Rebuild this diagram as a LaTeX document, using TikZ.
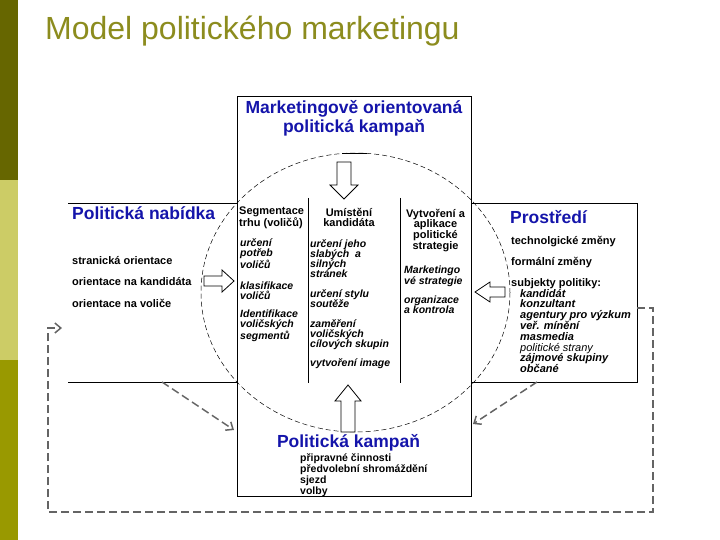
\documentclass[tikz,border=0pt]{standalone}
\usepackage{fontspec}
\setmainfont{Liberation Sans}
\usetikzlibrary{arrows.meta}
\definecolor{olivedark}{RGB}{102,102,0}
\definecolor{olivelight}{RGB}{204,204,102}
\definecolor{olivemid}{RGB}{153,153,0}
\definecolor{titleolive}{RGB}{140,140,30}
\definecolor{headblue}{RGB}{20,20,170}
\definecolor{loopgray}{RGB}{100,100,100}

\begin{document}
\begin{tikzpicture}[x=1pt,y=-1pt, every node/.style={inner sep=0pt},
  frame/.style={draw=black, line width=0.8pt},
  ring/.style={draw=black, line width=0.5pt, dash pattern=on 5pt off 3pt},
  blockarr/.style={draw=black, fill=white, line width=0.8pt},
  feedback/.style={draw=loopgray, line width=1.5pt, dash pattern=on 8pt off 4pt, -{Straight Barb[length=6pt,width=10pt]}},
  head/.style={text=headblue, font=\bfseries\fontsize{17.5}{18.5}\selectfont},
  txt/.style={anchor=base west, align=left, font=\bfseries\fontsize{11}{#1}\selectfont},
  colhead/.style={align=center, anchor=base, font=\bfseries\fontsize{11}{10.7}\selectfont},
  item/.style={anchor=base west, align=left, font=\bfseries\itshape\fontsize{10.5}{10.3}\selectfont}]
\useasboundingbox (0,0) rectangle (720,540);
\fill[olivedark] (0,0) rectangle (18,180);
\fill[olivelight] (0,180) rectangle (18,360);
\fill[olivemid] (0,360) rectangle (18,540);
\node[anchor=base west, text=titleolive, font=\fontsize{32}{32}\selectfont] (title) at (45,40) {Model politického marketingu};

% cross frame
\draw[frame] (237,96) rectangle (471,496);
\draw[frame] (237,203) -- (68,203) (68,382) -- (237,382);
\draw[frame] (471,203) -- (637,203) -- (637,382) -- (471,382);
\draw[frame] (308,198) -- (308,383) (400,198) -- (400,383);
\draw[ring] (355.5,292.5) ellipse [x radius=154.5, y radius=139.5];
\draw[line width=0.8pt] (342,153) -- (367,153);

% block arrows
\draw[blockarr] (337,162) -- (351,162) -- (351,185) -- (358,185) -- (344,199) -- (330,185) -- (337,185) -- cycle;
\draw[blockarr] (341,432) -- (355,432) -- (355,401) -- (361,401) -- (348,385) -- (335,401) -- (341,401) -- cycle;
\draw[blockarr] (204,276) -- (222,276) -- (222,270) -- (234,281) -- (222,292) -- (222,286) -- (204,286) -- cycle;
\draw[blockarr] (505,287) -- (490,287) -- (490,282) -- (475,292) -- (490,302) -- (490,297) -- (505,297) -- cycle;

% multi-line nodes sit on their last baseline
\node[head, align=center, anchor=base] (mok) at (354,132.5) {Marketingově orientovaná\\politická kampaň};
\node[head, anchor=base west] (nab) at (72,220) {Politická nabídka};
\node[head, anchor=base west] (env) at (510,224) {Prostředí};
\node[head, anchor=base] (camp) at (348.5,447) {Politická kampaň};

\node[txt=21.5] (offer) at (72,307) {stranická orientace\\orientace na kandidáta\\orientace na voliče};
\node[txt=21] (change) at (511,286) {technolgické změny\\formální změny\\subjekty politiky:};
\node[anchor=base west, align=left, font=\bfseries\itshape\fontsize{11}{10.8}\selectfont] (actors) at (520,372.6) {kandidát\\konzultant\\agentury pro výzkum\\veř. mínění\\masmedia\\{\mdseries politické strany}\\zájmové skupiny\\občané};
\node[txt=11, font=\bfseries\fontsize{10.5}{11}\selectfont] (acts) at (300,494) {připravné činnosti\\předvolební shromáždění\\sjezd\\volby};

\node[colhead, anchor=base west, align=left] (seg) at (239,226.7) {Segmentace\\trhu (voličů)};
\node[colhead] (pos) at (349,226.7) {Umístění\\kandidáta};
\node[colhead] (strat) at (435.5,249.1) {Vytvoření a\\aplikace\\politické\\strategie};
\node[item] (seg1) at (240,268.6) {určení\\potřeb\\voličů};
\node[item] (seg2) at (240,299.3) {klasifikace\\voličů};
\node[item] (seg3) at (240,339.6) {Identifikace\\voličských\\segmentů};
\node[item, font=\bfseries\itshape\fontsize{10.5}{10}\selectfont] (pos1) at (310,277) {určení jeho\\slabých~ a\\silných\\stránek};
\node[item] (pos2) at (310,307.3) {určení stylu\\soutěže};
\node[item] (pos3) at (310,347.6) {zaměření\\voličských\\cílových skupin};
\node[item] (pos4) at (310,366) {vytvoření image};
\node[item] (str1) at (404,284.3) {Marketingo\\vé strategie};
\node[item] (str2) at (404,313.3) {organizace\\a kontrola};

% feedback
\coordinate (nabfoot) at (162,382);
\coordinate (campin) at (234,430);
\coordinate (envfoot) at (537,382);
\coordinate (campout) at (473,424);
\coordinate (envside) at (637,308);
\coordinate (loopse) at (653,512);
\coordinate (loopsw) at (48,512);
\coordinate (nabside) at (62,328);
\draw[feedback] (nabfoot) -- (campin);
\draw[feedback] (envfoot) -- (campout);
\draw[feedback] (envside) -| (loopse) -- (loopsw) |- (nabside);
\end{tikzpicture}
\end{document}
